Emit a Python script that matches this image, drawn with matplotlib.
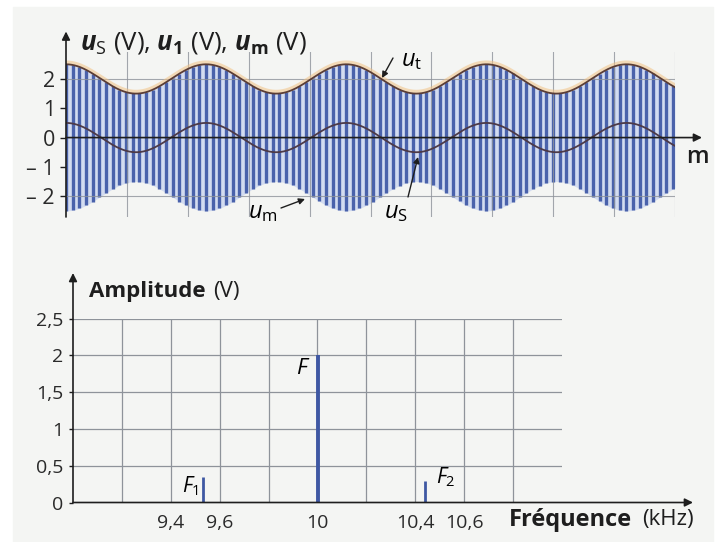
import numpy as np
import matplotlib
matplotlib.use("Agg")
import matplotlib.pyplot as plt
from matplotlib.patches import Rectangle

plt.rcParams['font.family'] = ['Open Sans', 'DejaVu Sans']
plt.rcParams['mathtext.fontset'] = 'custom'
plt.rcParams['mathtext.rm'] = 'Open Sans'
plt.rcParams['mathtext.it'] = 'Open Sans:italic'
plt.rcParams['mathtext.bf'] = 'Open Sans:bold'
plt.rcParams['mathtext.bfit'] = 'Open Sans:italic:bold'

# ---- amplitude-modulated signal (top panel) ----
CARRIER_KHZ = 10.0        # carrier frequency F
MOD_KHZ = 0.476           # modulating frequency
CARRIER_AMP = 2.0         # carrier amplitude (V)
MOD_AMP = 0.5             # modulating amplitude (V)
T_END_MS = 9.13           # visible time span
top_yticks = [2, 1, 0, -1, -2]
top_ytick_labels = ["2", "1", "0", "\u2013 1", "\u2013 2"]

# ---- spectrum (bottom panel) ----
line_names = ["F_1", "F", "F_2"]
line_freqs_khz = [9.53, 10.0, 10.44]
line_amps_v = [0.35, 2.0, 0.29]
freq_ticks = [9.4, 9.6, 10.0, 10.4, 10.6]
freq_tick_labels = ["9,4", "9,6", "10", "10,4", "10,6"]
amp_ticks = [0, 0.5, 1, 1.5, 2, 2.5]
amp_tick_labels = ["0", "0,5", "1", "1,5", "2", "2,5"]

W, H = 718, 542
PAGE = "#f4f5f3"
GRID = "#8e939a"
AXIS = "#1e1e1e"
BAR = "#4a62ab"
FILL = "#d3dcf0"
SPEC = "#3f58a3"

fig = plt.figure(figsize=(W / 100, H / 100), dpi=100, facecolor="white")
fig.patches.append(Rectangle((13 / W, 0), 700 / W, 1 - 7 / H,
                             transform=fig.transFigure, color=PAGE, zorder=-10))


def box(l, t, r, b):
    return [l / W, 1 - b / H, (r - l) / W, (b - t) / H]


def fp(x, y):
    return (x / W, 1 - y / H)


# ================= top panel =================
ax1 = fig.add_axes(box(66, 52, 675, 217))
ax1.set_facecolor("none")
ax1.set_xlim(0, T_END_MS)
ax1.set_ylim(-2.71, 2.92)
for s in ax1.spines.values():
    s.set_visible(False)

t = np.linspace(0, T_END_MS, 2000)
u_m = MOD_AMP * np.cos(2 * np.pi * MOD_KHZ * t)
u_t = CARRIER_AMP + u_m

# one stroke per carrier period, spanning crest to trough of u_s
t_k = np.arange(0, T_END_MS, 1 / CARRIER_KHZ)
env_k = CARRIER_AMP + MOD_AMP * np.cos(2 * np.pi * MOD_KHZ * t_k)
ax1.fill_between(t, -u_t, u_t, color=FILL, lw=0, zorder=1)
ax1.vlines(t_k, -env_k, env_k, color=BAR, lw=2.4, zorder=2)

# grid
for gx in np.linspace(0, T_END_MS, 11)[1:]:
    ax1.axvline(gx, color=GRID, lw=0.8, alpha=0.8, zorder=3)
for gy in (2, -2):
    ax1.axhline(gy, color=GRID, lw=0.8, alpha=0.8, zorder=3)

ax1.plot(t, u_t + 0.06, color="#f2c285", lw=3, alpha=0.55, zorder=4)
ax1.plot(t, u_t, color="#5a3d36", lw=1.3, zorder=5)
ax1.plot(t, u_m, color="#4d3a48", lw=1.3, zorder=5)

# axes with arrows
x_arrow_end = (702 - 66) / 609 * T_END_MS
ax1.annotate("", xy=(x_arrow_end, 0), xytext=(0, 0), xycoords="data",
             arrowprops=dict(arrowstyle="-|>", color=AXIS, lw=1.2,
                             mutation_scale=12, shrinkA=0, shrinkB=0),
             annotation_clip=False, zorder=6)
ax1.annotate("", xy=(0, 3.62), xytext=(0, -2.71), xycoords="data",
             arrowprops=dict(arrowstyle="-|>", color=AXIS, lw=1.2,
                             mutation_scale=12, shrinkA=0, shrinkB=0),
             annotation_clip=False, zorder=6)

ax1.set_xticks([])
ax1.set_yticks(top_yticks)
ax1.set_yticklabels(top_ytick_labels, fontsize=15.5, color="#2a2a2a")
ax1.tick_params(axis="y", length=4, width=1, color=AXIS, pad=4)

fig.text(*fp(80, 43), r"$\mathbfit{u}_{\mathrm{S}}$ (V), $\mathbfit{u}_{\mathbf{1}}$ (V), "
         r"$\mathbfit{u}_{\mathbf{m}}$ (V)", fontsize=18.5, color="#1e1e1e",
         va="center", ha="left")
fig.text(*fp(697, 157), "m", fontsize=17, fontweight="semibold",
         color="#1e1e1e", ha="center", va="center")

arrow_kw = dict(arrowstyle="-|>", color="#1e1e1e", lw=1.0,
                mutation_scale=9, shrinkA=0, shrinkB=0)
fig.text(*fp(412, 60), r"$u_{\mathrm{t}}$", fontsize=17, ha="center", va="center")
ax1.annotate("", xy=fp(382, 78), xytext=fp(393, 58), xycoords="figure fraction",
             textcoords="figure fraction", arrowprops=arrow_kw, zorder=7)
fig.text(*fp(263, 212), r"$u_{\mathrm{m}}$", fontsize=17, ha="center", va="center")
ax1.annotate("", xy=fp(305, 199), xytext=fp(281, 208), xycoords="figure fraction",
             textcoords="figure fraction", arrowprops=arrow_kw, zorder=7)
fig.text(*fp(396, 212), r"$u_{\mathrm{S}}$", fontsize=17, ha="center", va="center")
ax1.annotate("", xy=fp(418, 157), xytext=fp(408, 197), xycoords="figure fraction",
             textcoords="figure fraction", arrowprops=arrow_kw, zorder=7)

# ================= bottom panel =================
ax2 = fig.add_axes(box(73, 318.5, 562, 502.5))
ax2.set_facecolor("none")
ax2.set_xlim(9.0, 11.0)
ax2.set_ylim(0, 2.5)
for s in ax2.spines.values():
    s.set_visible(False)

for gx in np.arange(9.2, 10.81, 0.2):
    ax2.plot([gx, gx], [0, 2.5], color=GRID, lw=0.9, zorder=1)
for gy in amp_ticks[1:]:
    ax2.axhline(gy, color=GRID, lw=0.9, zorder=1)

widths = [2.0, 2.8, 2.0]
ax2.vlines(line_freqs_khz, 0, line_amps_v, colors=SPEC, lw=widths, zorder=3)

x_end2 = 9.0 + (693 - 73) / 489 * 2.0
y_end2 = 2.5 + (318.5 - 273) / 184 * 2.5
ax2.annotate("", xy=(x_end2, 0), xytext=(9.0, 0), xycoords="data",
             arrowprops=dict(arrowstyle="-|>", color=AXIS, lw=1.2,
                             mutation_scale=12, shrinkA=0, shrinkB=0),
             annotation_clip=False, zorder=4)
ax2.annotate("", xy=(9.0, y_end2), xytext=(9.0, 0), xycoords="data",
             arrowprops=dict(arrowstyle="-|>", color=AXIS, lw=1.2,
                             mutation_scale=12, shrinkA=0, shrinkB=0),
             annotation_clip=False, zorder=4)

ax2.set_xticks(freq_ticks)
ax2.set_xticklabels(freq_tick_labels, fontsize=14, color="#2a2a2a")
ax2.tick_params(axis="x", length=0, pad=8)
ax2.set_yticks(amp_ticks)
ax2.set_yticklabels(amp_tick_labels, fontsize=14, color="#2a2a2a")
ax2.tick_params(axis="y", length=3, width=1, color=AXIS, pad=4)

fig.text(*fp(303, 368), r"$F$", fontsize=16, ha="center", va="center")
fig.text(*fp(191, 486), r"$F_{\mathrm{1}}$", fontsize=15, ha="center", va="center")
fig.text(*fp(446, 477), r"$F_{\mathrm{2}}$", fontsize=15, ha="center", va="center")

fig.text(*fp(89, 291), "Amplitude", fontsize=16, fontweight="bold",
         color="#1e1e1e", ha="left", va="center")
fig.text(*fp(213, 291), "(V)", fontsize=16, color="#1e1e1e",
         ha="left", va="center")
fig.text(*fp(509, 520), "Fr\u00e9quence", fontsize=17, fontweight="bold",
         color="#1e1e1e", ha="left", va="center")
fig.text(*fp(642, 520), "(kHz)", fontsize=16, color="#1e1e1e",
         ha="left", va="center")

fig.savefig("out.png", dpi=100, facecolor=fig.get_facecolor())
